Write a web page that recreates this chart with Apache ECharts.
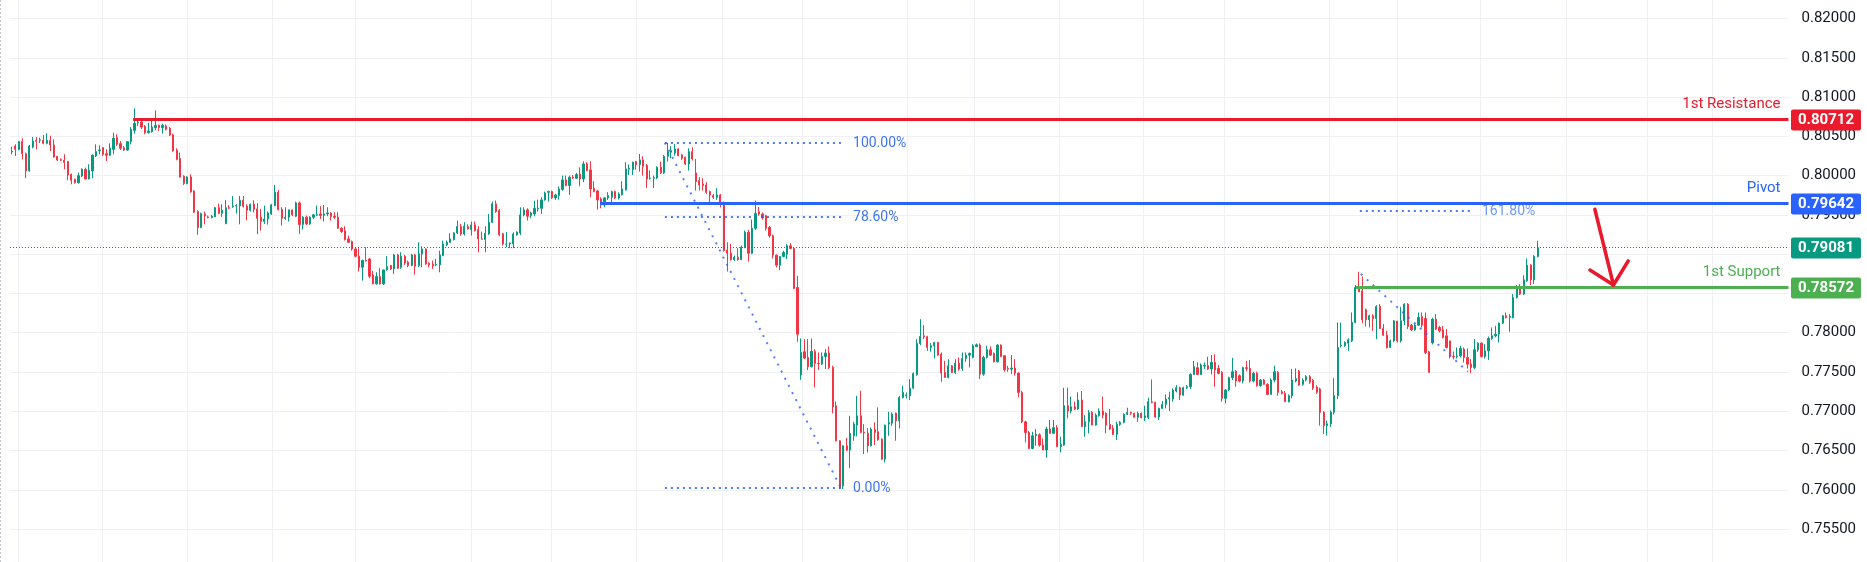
<!DOCTYPE html>
<html><head><meta charset="utf-8">
<script src="https://cdn.jsdelivr.net/npm/echarts@6/dist/echarts.min.js"></script>
<style>html,body{margin:0;padding:0;background:#fff}#c{width:1867px;height:562px}</style>
</head><body><div id="c"></div>
<script>
// hourly bars: [open, close, low, high]
const candles = [
[0.80301,0.80309,0.80271,0.80368],[0.80377,0.80334,0.80250,0.80398],[0.80334,0.80432,0.80322,0.80440],[0.80432,0.80279,0.80207,0.80474],[0.80279,0.80059,0.79966,0.80292],
[0.80059,0.80377,0.80050,0.80390],[0.80364,0.80440,0.80347,0.80491],[0.80449,0.80436,0.80334,0.80491],[0.80449,0.80457,0.80415,0.80483],[0.80449,0.80411,0.80398,0.80517],
[0.80411,0.80449,0.80398,0.80538],[0.80449,0.80390,0.80313,0.80508],[0.80390,0.80237,0.80228,0.80462],[0.80245,0.80199,0.80186,0.80250],[0.80203,0.80195,0.80186,0.80220],
[0.80195,0.80169,0.80080,0.80271],[0.80178,0.80008,0.79940,0.80186],[0.80016,0.79940,0.79889,0.80025],[0.79953,0.79910,0.79898,0.79961],[0.79910,0.79999,0.79898,0.80038],
[0.79995,0.80080,0.79982,0.80093],[0.80080,0.79957,0.79953,0.80101],[0.79957,0.80067,0.79953,0.80144],[0.80059,0.80258,0.79966,0.80271],[0.80250,0.80305,0.80237,0.80398],
[0.80317,0.80326,0.80271,0.80385],[0.80356,0.80271,0.80250,0.80364],[0.80279,0.80258,0.80186,0.80334],[0.80258,0.80347,0.80250,0.80411],[0.80334,0.80474,0.80271,0.80546],
[0.80483,0.80398,0.80377,0.80525],[0.80407,0.80347,0.80326,0.80440],[0.80356,0.80326,0.80313,0.80377],[0.80326,0.80432,0.80313,0.80440],[0.80432,0.80589,0.80398,0.80618],
[0.80576,0.80665,0.80534,0.80856],[0.80669,0.80678,0.80631,0.80716],[0.80682,0.80618,0.80593,0.80695],[0.80627,0.80546,0.80525,0.80644],[0.80546,0.80568,0.80534,0.80674],
[0.80559,0.80618,0.80546,0.80716],[0.80610,0.80640,0.80576,0.80830],[0.80640,0.80610,0.80568,0.80652],[0.80610,0.80640,0.80534,0.80661],[0.80631,0.80589,0.80576,0.80652],
[0.80601,0.80517,0.80504,0.80618],[0.80517,0.80313,0.80305,0.80534],[0.80322,0.80207,0.80195,0.80347],[0.80216,0.79982,0.79974,0.80292],[0.79991,0.79898,0.79881,0.80004],
[0.79898,0.79982,0.79889,0.79991],[0.79982,0.79792,0.79783,0.80016],[0.79804,0.79533,0.79525,0.79813],[0.79542,0.79338,0.79245,0.79559],[0.79338,0.79516,0.79330,0.79529],
[0.79508,0.79486,0.79380,0.79542],[0.79474,0.79465,0.79457,0.79491],[0.79465,0.79482,0.79457,0.79499],[0.79474,0.79592,0.79474,0.79601],[0.79592,0.79520,0.79508,0.79643],
[0.79520,0.79559,0.79474,0.79635],[0.79389,0.79592,0.79380,0.79686],[0.79592,0.79584,0.79571,0.79626],[0.79601,0.79614,0.79592,0.79741],[0.79614,0.79618,0.79516,0.79635],
[0.79614,0.79686,0.79380,0.79741],[0.79686,0.79610,0.79592,0.79741],[0.79610,0.79559,0.79431,0.79635],[0.79559,0.79635,0.79542,0.79643],[0.79635,0.79571,0.79529,0.79686],
[0.79576,0.79457,0.79253,0.79648],[0.79470,0.79415,0.79300,0.79576],[0.79415,0.79448,0.79385,0.79618],[0.79448,0.79525,0.79376,0.79542],[0.79512,0.79627,0.79500,0.79640],
[0.79618,0.79788,0.79610,0.79881],[0.79788,0.79567,0.79555,0.79818],[0.79567,0.79457,0.79364,0.79597],[0.79457,0.79470,0.79436,0.79597],[0.79470,0.79563,0.79415,0.79567],
[0.79563,0.79500,0.79483,0.79567],[0.79483,0.79652,0.79470,0.79669],[0.79652,0.79376,0.79258,0.79669],[0.79376,0.79470,0.79313,0.79483],[0.79470,0.79385,0.79372,0.79491],
[0.79385,0.79470,0.79372,0.79483],[0.79470,0.79500,0.79448,0.79512],[0.79495,0.79504,0.79483,0.79618],[0.79512,0.79491,0.79448,0.79610],[0.79491,0.79512,0.79415,0.79627],
[0.79512,0.79525,0.79483,0.79597],[0.79525,0.79478,0.79427,0.79533],[0.79483,0.79470,0.79448,0.79533],[0.79470,0.79330,0.79321,0.79533],[0.79330,0.79287,0.79270,0.79343],
[0.79296,0.79185,0.79173,0.79355],[0.79194,0.79151,0.79143,0.79236],[0.79160,0.79066,0.79045,0.79173],[0.79066,0.78973,0.78960,0.79075],[0.78973,0.78833,0.78778,0.79075],
[0.78833,0.78918,0.78663,0.78931],[0.78922,0.78914,0.78905,0.79088],[0.78939,0.78718,0.78693,0.78948],[0.78735,0.78621,0.78617,0.78787],[0.78621,0.78714,0.78613,0.78769],
[0.78714,0.78621,0.78613,0.78821],[0.78621,0.78799,0.78608,0.78799],[0.78799,0.78842,0.78791,0.78973],[0.78854,0.78812,0.78799,0.78863],[0.78812,0.78990,0.78748,0.79003],
[0.78990,0.78821,0.78812,0.79003],[0.78833,0.78973,0.78812,0.79024],[0.78973,0.78888,0.78863,0.78990],[0.78897,0.78854,0.78833,0.78918],[0.78854,0.78990,0.78846,0.79003],
[0.78990,0.78846,0.78740,0.79003],[0.78854,0.79003,0.78833,0.79151],[0.79003,0.79066,0.78833,0.79100],[0.79066,0.78876,0.78863,0.79075],[0.78884,0.78863,0.78833,0.78897],
[0.78871,0.78850,0.78812,0.78918],[0.78863,0.78871,0.78846,0.78939],[0.78863,0.78990,0.78769,0.79045],[0.78982,0.79130,0.78973,0.79173],[0.79117,0.79151,0.79100,0.79173],
[0.79151,0.79194,0.79143,0.79266],[0.79185,0.79270,0.79173,0.79279],[0.79270,0.79351,0.79258,0.79427],[0.79351,0.79258,0.79236,0.79385],[0.79258,0.79355,0.79236,0.79406],
[0.79351,0.79321,0.79313,0.79381],[0.79313,0.79372,0.79236,0.79415],[0.79372,0.79300,0.79287,0.79415],[0.79313,0.79194,0.79024,0.79355],[0.79194,0.79190,0.79185,0.79287],
[0.79185,0.79266,0.79024,0.79355],[0.79258,0.79406,0.79245,0.79512],[0.79406,0.79640,0.79398,0.79669],[0.79640,0.79542,0.79525,0.79682],[0.79555,0.79245,0.79228,0.79576],
[0.79258,0.79130,0.79109,0.79270],[0.79126,0.79130,0.79088,0.79279],[0.79130,0.79143,0.79075,0.79151],[0.79130,0.79257,0.79075,0.79278],[0.79244,0.79278,0.79236,0.79291],
[0.79270,0.79499,0.79244,0.79597],[0.79499,0.79563,0.79482,0.79597],[0.79563,0.79482,0.79427,0.79584],[0.79491,0.79525,0.79457,0.79541],[0.79512,0.79584,0.79482,0.79681],
[0.79575,0.79584,0.79541,0.79694],[0.79584,0.79690,0.79512,0.79724],[0.79690,0.79779,0.79681,0.79796],[0.79788,0.79796,0.79669,0.79809],[0.79796,0.79716,0.79703,0.79809],
[0.79716,0.79754,0.79690,0.79767],[0.79745,0.79830,0.79694,0.79860],[0.79822,0.79945,0.79809,0.80000],[0.79945,0.79873,0.79864,0.80000],[0.79873,0.79979,0.79754,0.80000],
[0.79979,0.79970,0.79957,0.80008],[0.79966,0.80013,0.79957,0.80034],[0.80021,0.79957,0.79864,0.80106],[0.79957,0.80148,0.79915,0.80182],[0.80148,0.80064,0.80055,0.80170],
[0.80072,0.79830,0.79724,0.80182],[0.79839,0.79796,0.79788,0.79928],[0.79805,0.79690,0.79567,0.79818],[0.79703,0.79626,0.79584,0.79724],[0.79626,0.79716,0.79597,0.79724],
[0.79716,0.79745,0.79690,0.79788],[0.79724,0.79796,0.79626,0.79809],[0.79796,0.79716,0.79703,0.79809],[0.79716,0.79767,0.79694,0.79788],[0.79758,0.79830,0.79745,0.79928],
[0.79818,0.80085,0.79809,0.80170],[0.80081,0.80089,0.80008,0.80140],[0.80076,0.80170,0.80008,0.80178],[0.80178,0.80140,0.80076,0.80187],[0.80140,0.80200,0.80051,0.80276],
[0.80200,0.80119,0.80000,0.80246],[0.80127,0.79957,0.79843,0.80148],[0.79962,0.79970,0.79949,0.80064],[0.79966,0.79974,0.79843,0.80000],[0.79970,0.80106,0.79957,0.80119],
[0.80106,0.80034,0.80021,0.80178],[0.80034,0.80246,0.80021,0.80263],[0.80246,0.80305,0.80178,0.80419],[0.80297,0.80318,0.80221,0.80373],[0.80288,0.80339,0.80254,0.80403],
[0.80339,0.80254,0.80246,0.80348],[0.80263,0.80221,0.80199,0.80276],[0.80233,0.80148,0.80136,0.80242],[0.80148,0.80305,0.80064,0.80348],[0.80305,0.80212,0.80191,0.80361],
[0.80034,0.79923,0.79809,0.80212],[0.79936,0.79881,0.79809,0.79979],[0.79894,0.79873,0.79809,0.79966],[0.79881,0.79788,0.79767,0.79915],[0.79796,0.79754,0.79626,0.79809],
[0.79745,0.79724,0.79703,0.79767],[0.79724,0.79754,0.79690,0.79839],[0.79754,0.79639,0.79597,0.79767],[0.79652,0.79045,0.79032,0.79669],[0.79053,0.79011,0.78778,0.79151],
[0.79011,0.78930,0.78918,0.79130],[0.78930,0.78960,0.78913,0.78981],[0.78960,0.78930,0.78918,0.79075],[0.78930,0.79087,0.78926,0.79109],[0.79087,0.79278,0.79075,0.79300],
[0.79278,0.79011,0.78905,0.79308],[0.79011,0.79329,0.79003,0.79440],[0.79329,0.79520,0.79308,0.79682],[0.79540,0.79511,0.79490,0.79600],[0.79511,0.79460,0.79440,0.79530],
[0.79490,0.79328,0.79300,0.79500],[0.79341,0.79235,0.79210,0.79360],[0.79235,0.78990,0.78945,0.79250],[0.78987,0.78860,0.78830,0.78995],[0.78860,0.78970,0.78796,0.78975],
[0.78970,0.79021,0.78960,0.79042],[0.79000,0.79106,0.78936,0.79127],[0.79106,0.79072,0.79064,0.79140],[0.79072,0.78563,0.78554,0.79080],[0.78576,0.77981,0.77884,0.78724],
[0.77460,0.77748,0.77400,0.77926],[0.77757,0.77676,0.77663,0.77918],[0.77685,0.77566,0.77523,0.77918],[0.77566,0.77761,0.77557,0.77926],[0.77761,0.77608,0.77303,0.77790],
[0.77608,0.77604,0.77527,0.77748],[0.77600,0.77697,0.77587,0.77748],[0.77697,0.77740,0.77536,0.77790],[0.77740,0.77557,0.77536,0.77825],[0.77557,0.77056,0.76972,0.77578],
[0.77069,0.76624,0.76615,0.77124],[0.76624,0.76029,0.76008,0.76632],[0.76050,0.76560,0.76008,0.76560],[0.76560,0.76505,0.76492,0.76658],[0.76505,0.76717,0.76275,0.76942],
[0.76687,0.76836,0.76624,0.76865],[0.76823,0.76942,0.76679,0.77196],[0.76942,0.76729,0.76721,0.77260],[0.76734,0.76725,0.76454,0.76836],[0.76721,0.76560,0.76475,0.76785],
[0.76560,0.76772,0.76551,0.76793],[0.76764,0.76729,0.76568,0.76857],[0.76738,0.76636,0.76624,0.77048],[0.76645,0.76390,0.76381,0.76653],[0.76390,0.76823,0.76347,0.76830],
[0.76836,0.76857,0.76687,0.76993],[0.76848,0.76963,0.76814,0.76984],[0.76976,0.76878,0.76624,0.76984],[0.76878,0.77175,0.76780,0.77196],[0.77175,0.77239,0.77162,0.77324],
[0.77196,0.77209,0.77162,0.77239],[0.77196,0.77294,0.77141,0.77409],[0.77294,0.77481,0.77281,0.77493],[0.77464,0.77863,0.77451,0.77918],[0.77863,0.77952,0.77842,0.78172],
[0.77960,0.77948,0.77918,0.78096],[0.77948,0.77812,0.77769,0.77960],[0.77812,0.77833,0.77757,0.77867],[0.77833,0.77875,0.77672,0.77884],[0.77875,0.77714,0.77706,0.77884],
[0.77727,0.77485,0.77375,0.77748],[0.77493,0.77430,0.77430,0.77642],[0.77430,0.77578,0.77417,0.77663],[0.77578,0.77493,0.77485,0.77587],[0.77493,0.77612,0.77472,0.77663],
[0.77612,0.77536,0.77515,0.77685],[0.77544,0.77672,0.77515,0.77748],[0.77672,0.77714,0.77629,0.77748],[0.77714,0.77735,0.77557,0.77748],[0.77685,0.77833,0.77672,0.77854],
[0.77825,0.77846,0.77820,0.77863],[0.77842,0.77472,0.77409,0.77863],[0.77472,0.77685,0.77451,0.77706],[0.77685,0.77782,0.77672,0.77833],[0.77782,0.77714,0.77706,0.77825],
[0.77735,0.77629,0.77621,0.77748],[0.77629,0.77842,0.77621,0.77854],[0.77842,0.77697,0.77685,0.77850],[0.77706,0.77527,0.77502,0.77714],[0.77544,0.77536,0.77502,0.77578],
[0.77536,0.77549,0.77472,0.77714],[0.77549,0.77485,0.77451,0.77663],[0.77485,0.77239,0.77175,0.77493],[0.77239,0.76865,0.76848,0.77260],[0.76865,0.76729,0.76602,0.76878],
[0.76729,0.76526,0.76517,0.76750],[0.76526,0.76687,0.76517,0.76738],[0.76687,0.76708,0.76560,0.76772],[0.76700,0.76569,0.76548,0.76718],[0.76569,0.76506,0.76506,0.76654],
[0.76506,0.76773,0.76408,0.76803],[0.76773,0.76718,0.76718,0.76888],[0.76718,0.76790,0.76718,0.76888],[0.76790,0.76548,0.76548,0.76824],[0.76548,0.76578,0.76476,0.76675],
[0.76569,0.77070,0.76561,0.77299],[0.77070,0.77002,0.76909,0.77299],[0.77002,0.77057,0.76973,0.77185],[0.77057,0.77028,0.77015,0.77121],[0.77028,0.77142,0.77015,0.77240],
[0.77142,0.76803,0.76803,0.77257],[0.76803,0.76866,0.76675,0.76951],[0.76866,0.76985,0.76718,0.77015],[0.76985,0.76824,0.76824,0.77002],[0.76824,0.76951,0.76815,0.76973],
[0.76943,0.77002,0.76930,0.77036],[0.77002,0.76951,0.76909,0.77185],[0.76973,0.76824,0.76718,0.76985],[0.76832,0.76773,0.76760,0.77028],[0.76781,0.76705,0.76697,0.76824],
[0.76705,0.76832,0.76633,0.76866],[0.76832,0.76858,0.76815,0.76875],[0.76858,0.76960,0.76845,0.76973],[0.76960,0.76985,0.76951,0.77045],[0.76985,0.76973,0.76951,0.76994],
[0.76973,0.76922,0.76922,0.76981],[0.76922,0.76973,0.76866,0.76994],[0.76973,0.76918,0.76909,0.76985],[0.76918,0.76943,0.76875,0.77070],[0.76918,0.77121,0.76900,0.77172],
[0.77121,0.77113,0.77100,0.77405],[0.77113,0.76926,0.76918,0.77121],[0.76926,0.77036,0.76888,0.77045],[0.77036,0.77087,0.77028,0.77130],[0.77087,0.77155,0.77036,0.77215],
[0.77155,0.77172,0.77002,0.77248],[0.77155,0.77270,0.77121,0.77291],[0.77257,0.77299,0.77240,0.77333],[0.77299,0.77206,0.77142,0.77312],[0.77206,0.77299,0.77197,0.77312],
[0.77299,0.77312,0.77282,0.77333],[0.77312,0.77469,0.77282,0.77482],[0.77469,0.77567,0.77461,0.77639],[0.77554,0.77469,0.77461,0.77622],[0.77469,0.77588,0.77461,0.77609],
[0.77575,0.77584,0.77537,0.77622],[0.77579,0.77537,0.77524,0.77694],[0.77537,0.77622,0.77469,0.77715],[0.77622,0.77524,0.77312,0.77724],[0.77545,0.77482,0.77469,0.77588],
[0.77494,0.77164,0.77121,0.77511],[0.77164,0.77270,0.77100,0.77282],[0.77270,0.77427,0.77257,0.77439],[0.77427,0.77503,0.77397,0.77681],[0.77511,0.77384,0.77312,0.77524],
[0.77452,0.77384,0.77367,0.77469],[0.77384,0.77554,0.77355,0.77567],[0.77554,0.77545,0.77511,0.77639],[0.77545,0.77384,0.77367,0.77652],[0.77384,0.77482,0.77367,0.77503],
[0.77482,0.77325,0.77312,0.77503],[0.77325,0.77397,0.77312,0.77410],[0.77397,0.77342,0.77333,0.77410],[0.77342,0.77214,0.77206,0.77355],[0.77214,0.77397,0.77214,0.77418],
[0.77397,0.77503,0.77367,0.77579],[0.77494,0.77240,0.77197,0.77511],[0.77248,0.77227,0.77214,0.77270],[0.77227,0.77121,0.77121,0.77257],[0.77121,0.77197,0.77113,0.77214],
[0.77197,0.77397,0.77164,0.77537],[0.77384,0.77418,0.77367,0.77545],[0.77511,0.77333,0.77325,0.77524],[0.77342,0.77397,0.77325,0.77418],[0.77397,0.77440,0.77380,0.77460],
[0.77440,0.77369,0.77350,0.77460],[0.77390,0.77293,0.77270,0.77410],[0.77306,0.77242,0.77220,0.77330],[0.77284,0.76987,0.76817,0.77300],[0.76987,0.76817,0.76711,0.77000],
[0.76817,0.76839,0.76690,0.76881],[0.76839,0.76987,0.76800,0.77010],[0.76987,0.77199,0.76960,0.77420],[0.77196,0.77811,0.77154,0.78130],[0.77833,0.77841,0.77811,0.78130],
[0.77833,0.77875,0.77820,0.77890],[0.77867,0.77909,0.77769,0.77930],[0.77896,0.78130,0.77880,0.78257],[0.78130,0.78575,0.78121,0.78605],[0.78588,0.78520,0.78520,0.78775],
[0.78533,0.78164,0.78121,0.78715],[0.78291,0.78164,0.78079,0.78308],[0.78164,0.78215,0.78066,0.78230],[0.78215,0.78181,0.78024,0.78236],[0.78181,0.78333,0.77918,0.78350],
[0.78333,0.78053,0.78045,0.78363],[0.78053,0.77968,0.77960,0.78109],[0.77968,0.77811,0.77799,0.78024],[0.77811,0.77896,0.77811,0.77910],[0.77896,0.78151,0.77880,0.78160],
[0.78147,0.77896,0.77875,0.78151],[0.77896,0.78151,0.77875,0.78329],[0.78151,0.78363,0.78096,0.78376],[0.78363,0.78079,0.78045,0.78376],[0.78096,0.78036,0.78020,0.78110],
[0.78036,0.78096,0.78024,0.78117],[0.78096,0.78193,0.78087,0.78257],[0.78206,0.78096,0.78066,0.78257],[0.78181,0.77748,0.77727,0.78257],[0.77756,0.77493,0.77493,0.77769],
[0.77870,0.78172,0.77850,0.78190],[0.78172,0.78045,0.78036,0.78236],[0.78066,0.78024,0.78002,0.78087],[0.78036,0.77939,0.77926,0.78087],[0.77960,0.77811,0.77799,0.78045],
[0.77896,0.77697,0.77671,0.77896],[0.77697,0.77690,0.77660,0.77760],[0.77697,0.77705,0.77671,0.77811],[0.77705,0.77799,0.77684,0.77833],[0.77790,0.77684,0.77620,0.77811],
[0.77684,0.77599,0.77544,0.77799],[0.77599,0.77557,0.77485,0.77663],[0.77557,0.77782,0.77536,0.77918],[0.77782,0.77867,0.77756,0.77875],[0.77867,0.77697,0.77684,0.77875],
[0.77697,0.77769,0.77671,0.77854],[0.77769,0.77926,0.77654,0.77951],[0.77926,0.77960,0.77909,0.78066],[0.77960,0.77981,0.77939,0.78087],[0.77981,0.78121,0.77875,0.78130],
[0.78121,0.78215,0.78109,0.78223],[0.78215,0.78193,0.78181,0.78257],[0.78193,0.78206,0.78011,0.78236],[0.78193,0.78448,0.78181,0.78491],[0.78448,0.78588,0.78435,0.78605],
[0.78588,0.78491,0.78478,0.78618],[0.78491,0.78673,0.78478,0.78732],[0.78660,0.78860,0.78648,0.78945],[0.78860,0.78673,0.78605,0.78873],[0.78673,0.78970,0.78618,0.78987],
[0.78970,0.79081,0.78958,0.79170]
];
const slotCount = 507;                 // visible hourly slots incl. empty future space
const slots = Array.from({length: slotCount}, (_, i) => 'h' + i);
const priceMin = 0.75, priceMax = 0.825, priceStep = 0.005;
const dayLines = [1.9, 26.0, 50.0, 74.2, 98.1, 131.2, 154.0, 178.2, 202.5, 225.4, 255.4, 274.4, 298.6, 322.6, 345.7, 375.7, 394.9, 418.8, 443.1, 466.2, 484.7];
const levels = [
  {label: '1st Resistance', price: 0.80712, from: 34.6, color: '#e91b2c'},
  {label: 'Pivot', price: 0.79642, from: 167.7, color: '#2962ff'},
  {label: '1st Support', price: 0.78572, from: 383.2, color: '#4caf50'}
];
const lastPrice = 0.79081;
const fibLevels = [
  {text: '100.00%', price: 0.80419, from: 186.2, to: 236.4, faded: false},
  {text: '78.60%', price: 0.79478, from: 186.2, to: 236.4, faded: false},
  {text: '0.00%', price: 0.76020, from: 186.2, to: 236.4, faded: false},
  {text: '161.80%', price: 0.79555, from: 384.3, to: 415.7, faded: true}
];
const fibTrends = [[186.2, 0.80419, 236.4, 0.76020], [384.6, 0.78747, 415.1, 0.77503]];
const arrowShaft = [[451.3, 0.79571], [456.6, 0.78607]];
const arrowHead = [[449.9, 0.78798], [456.6, 0.78607], [460.8, 0.78913]];

const UP = '#089981', DOWN = '#f23645', GRID = '#eef0f3', FONT = 'Roboto, "Open Sans", sans-serif';
const chart = echarts.init(document.getElementById('c'), null, {renderer: 'canvas'});

function snap(v, w) { return (Math.round(w) % 2 === 1) ? Math.round(v - 0.5) + 0.5 : Math.round(v); }

chart.setOption({
  animation: false,
  backgroundColor: '#ffffff',
  grid: {left: 10, right: 78.5, top: -20.77, bottom: -6.3, containLabel: false, outerBoundsMode: 'none'},
  xAxis: [
    {type: 'category', data: slots, boundaryGap: true, axisLine: {show: false}, axisTick: {show: false}, axisLabel: {show: false}, splitLine: {show: false}},
    {type: 'value', min: -0.5, max: slotCount - 0.5, show: false, splitLine: {show: false}}
  ],
  yAxis: {
    type: 'value', position: 'right', min: priceMin, max: priceMax, interval: priceStep,
    axisLine: {show: false}, axisTick: {show: false},
    splitLine: {show: true, lineStyle: {color: GRID, width: 1}},
    axisLabel: {formatter: v => v.toFixed(5), color: '#131722', fontSize: 15, fontFamily: FONT, margin: 13, showMinLabel: false, showMaxLabel: false}
  },
  series: [
    {
      type: 'custom', name: 'days', xAxisIndex: 1, yAxisIndex: 0, z: 0, silent: true, clip: false,
      data: dayLines.map(v => [v, priceMin]),
      renderItem: function (params, api) {
        const cs = params.coordSys;
        const x = snap(api.coord([api.value(0), priceMin])[0], 1);
        return {type: 'line', shape: {x1: x, y1: cs.y, x2: x, y2: cs.y + cs.height}, style: {stroke: GRID, lineWidth: 1}};
      }
    },
    {
      type: 'candlestick', name: 'price', xAxisIndex: 0, yAxisIndex: 0, z: 2,
      data: candles, barWidth: 1.7,
      itemStyle: {color: UP, color0: DOWN, borderColor: UP, borderColor0: DOWN, borderWidth: 1}
    },
    {
      type: 'custom', name: 'drawings', xAxisIndex: 1, yAxisIndex: 0, z: 5, silent: true, clip: false,
      data: [[0, lastPrice]],
      renderItem: function (params, api) {
        const cs = params.coordSys;
        const L = cs.x, R = cs.x + cs.width;
        const kids = [];
        // last price dotted line
        const yl = snap(api.coord([0, lastPrice])[1], 1);
        kids.push({type: 'line', shape: {x1: L, y1: yl, x2: R, y2: yl}, style: {stroke: '#07876f', lineWidth: 1, lineDash: [1, 2]}});
        // fib trend diagonals
        fibTrends.forEach(t => {
          const a = api.coord([t[0], t[1]]), b = api.coord([t[2], t[3]]);
          kids.push({type: 'line', shape: {x1: a[0], y1: a[1], x2: b[0], y2: b[1]}, style: {stroke: '#2962ff', opacity: 0.8, lineWidth: 2, lineDash: [2, 6]}});
        });
        // fib levels
        fibLevels.forEach(f => {
          const a = api.coord([f.from, f.price]), b = api.coord([f.to, f.price]);
          const y = snap(a[1], 2);
          kids.push({type: 'line', shape: {x1: a[0], y1: y, x2: b[0], y2: y}, style: {stroke: '#2962ff', opacity: 0.85, lineWidth: 2, lineDash: [2, 4]}});
          kids.push({type: 'text', style: {text: f.text, x: b[0] + 12, y: y, align: 'left', verticalAlign: 'middle', fill: f.faded ? '#7099f2' : '#3f74f5', font: '14px ' + FONT}});
        });
        // support/resistance lines with labels
        levels.forEach(l => {
          const a = api.coord([l.from, l.price]);
          const y = snap(a[1], 3);
          kids.push({type: 'line', shape: {x1: a[0], y1: y, x2: R, y2: y}, style: {stroke: l.color, lineWidth: 3}});
          kids.push({type: 'text', style: {text: l.label, x: R - 8, y: y - 15, align: 'right', verticalAlign: 'middle', fill: l.color, font: '15px ' + FONT}});
        });
        // arrow
        const s0 = api.coord(arrowShaft[0]), s1 = api.coord(arrowShaft[1]);
        kids.push({type: 'line', shape: {x1: s0[0], y1: s0[1], x2: s1[0], y2: s1[1]}, style: {stroke: '#e8192c', lineWidth: 3.5, lineCap: 'round'}});
        kids.push({type: 'polyline', shape: {points: arrowHead.map(p => api.coord(p))}, style: {stroke: '#e8192c', fill: null, lineWidth: 3.5, lineJoin: 'round', lineCap: 'round'}});
        return {type: 'group', children: kids};
      }
    },
    {
      type: 'custom', name: 'priceTags', xAxisIndex: 1, yAxisIndex: 0, z: 20, silent: true, clip: false,
      data: levels.map(l => [0, l.price]).concat([[0, lastPrice]]),
      renderItem: function (params, api) {
        const cs = params.coordSys;
        const R = cs.x + cs.width;
        const price = api.value(1);
        const color = params.dataIndex < levels.length ? levels[params.dataIndex].color : UP;
        const y = api.coord([0, price])[1];
        return {type: 'group', children: [
          {type: 'rect', shape: {x: R + 2.5, y: Math.round(y) - 10.5, width: 70, height: 21, r: 2}, style: {fill: color}},
          {type: 'text', style: {text: price.toFixed(5), x: R + 37.5, y: Math.round(y) + 0.5, align: 'center', verticalAlign: 'middle', fill: '#ffffff', font: 'bold 15px ' + FONT}}
        ]};
      }
    }
  ],
  graphic: [{type: 'line', shape: {x1: 0.5, y1: 0, x2: 0.5, y2: 562}, style: {stroke: '#c3c6cc', lineWidth: 1, lineDash: [2, 2]}, z: 100}]
});
</script>
</body></html>
